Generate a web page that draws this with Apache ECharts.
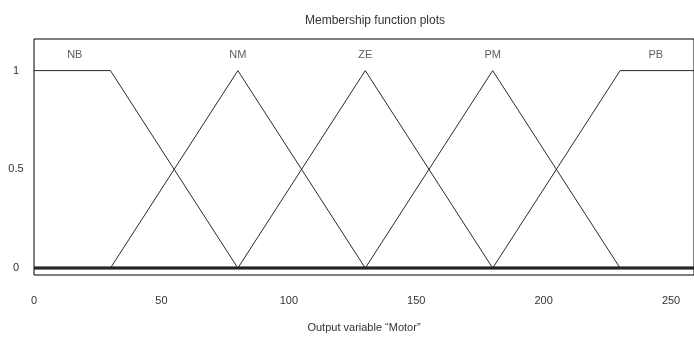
<!DOCTYPE html>
<html>
<head>
<meta charset="utf-8">
<script src="https://cdn.jsdelivr.net/npm/echarts@6/dist/echarts.min.js"></script>
<style>
  html, body { margin: 0; padding: 0; background: #fff; }
  #chart { width: 694px; height: 338px; }
</style>
</head>
<body>
<div id="chart"></div>
<script>
// Universe of discourse for the output variable
const xRange = [0, 259];
const xTicks = [0, 50, 100, 150, 200, 250];
const yTicks = [0, 0.5, 1];

// Membership functions: breakpoints (x) and membership degrees (y)
const mfNames = ['NB', 'NM', 'ZE', 'PM', 'PB'];
const nbX = [0, 30, 80, 259];   const nbY = [1, 1, 0, 0];
const nmX = [0, 30, 80, 130, 259]; const nmY = [0, 0, 1, 0, 0];
const zeX = [0, 80, 130, 180, 259]; const zeY = [0, 0, 1, 0, 0];
const pmX = [0, 130, 180, 230, 259]; const pmY = [0, 0, 1, 0, 0];
const pbX = [0, 180, 230, 259]; const pbY = [0, 0, 1, 1];

// Label anchors: centre of each function's core, just above full membership
const labelX = [16, 80, 130, 180, 244];
const labelY = 1.08;

const mfX = [nbX, nmX, zeX, pmX, pbX];
const mfY = [nbY, nmY, zeY, pmY, pbY];

const font = '"Liberation Sans Narrow", "Liberation Sans", Arial, sans-serif';

const lineSeries = mfNames.map((name, i) => ({
  name: name,
  type: 'line',
  data: mfX[i].map((x, k) => [x, mfY[i][k]]),
  symbol: 'none',
  silent: true,
  lineStyle: { color: '#2a2a2a', width: 1 },
  z: 3
}));

const chart = echarts.init(document.getElementById('chart'), null, { renderer: 'canvas' });
chart.setOption({
  animation: false,
  backgroundColor: '#fff',
  title: {
    text: 'Membership function plots',
    left: 370,
    textAlign: 'center',
    top: 10,
    textStyle: { fontFamily: font, fontSize: 12, fontWeight: 'normal', color: '#333' }
  },
  grid: {
    left: 34, top: 39, bottom: 61, right: -2,
    show: true, borderColor: '#000', borderWidth: 1, backgroundColor: 'transparent'
  },
  xAxis: {
    type: 'value',
    min: xRange[0], max: xRange[1], interval: 50,
    name: 'Output variable \u201cMotor\u201d',
    nameLocation: 'middle', nameGap: 47,
    nameTextStyle: { fontFamily: font, fontSize: 11, color: '#333' },
    axisLine: { show: false },
    axisTick: { show: false },
    splitLine: { show: false },
    axisLabel: {
      customValues: xTicks,
      margin: 20,
      fontFamily: font, fontSize: 11, color: '#333'
    }
  },
  yAxis: {
    type: 'value',
    min: -0.035, max: 1.16,
    axisLine: { show: false },
    axisTick: { show: false },
    splitLine: { show: false },
    axisLabel: {
      customValues: yTicks,
      margin: 18,
      align: 'center',
      fontFamily: font, fontSize: 11, color: '#333'
    }
  },
  series: lineSeries.concat([
    {
      // heavy baseline where all functions sit at zero membership
      type: 'line',
      data: [[xRange[0], 0], [xRange[1], 0]],
      symbol: 'none',
      silent: true,
      lineStyle: { color: '#000', width: 3 },
      z: 2
    },
    {
      type: 'scatter',
      data: mfNames.map((n, i) => ({ value: [labelX[i], labelY], name: n })),
      symbolSize: 0,
      silent: true,
      label: {
        show: true,
        position: 'inside',
        formatter: p => p.name,
        fontFamily: font, fontSize: 11, color: '#333'
      }
    }
  ])
});
</script>
</body>
</html>
